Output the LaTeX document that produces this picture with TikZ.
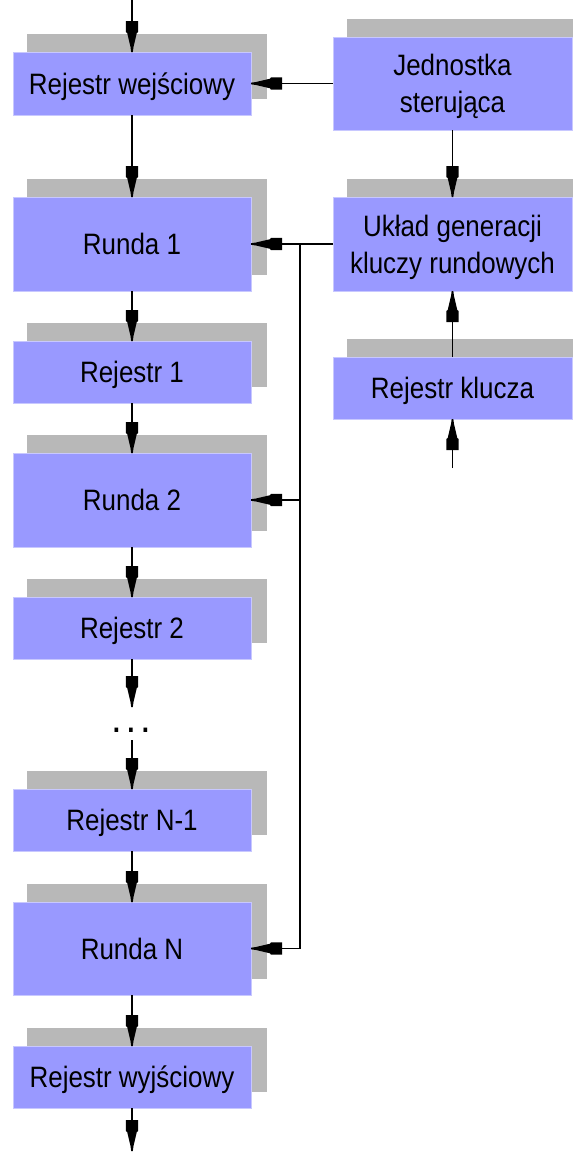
\documentclass[tikz,border=0pt]{standalone}
\usepackage{fontspec}
\setmainfont{Liberation Sans}[FakeStretch=0.88]
\usetikzlibrary{arrows.meta,shadows}
\definecolor{boxfill}{RGB}{153,153,255}
\definecolor{boxedge}{RGB}{200,200,255}
\definecolor{shade}{RGB}{184,184,184}

% arrow head: square block, tapered neck, thin needle at the tip
\pgfdeclarearrow{
  name = Plug,
  setup code = {
    \pgfarrowssettipend{0pt}
    \pgfarrowssetlineend{-3pt}
    \pgfarrowssetbackend{-31pt}
    \pgfarrowshullpoint{0pt}{0pt}
    \pgfarrowshullpoint{-31pt}{6.2pt}
    \pgfarrowshullpoint{-31pt}{-6.2pt}
  },
  drawing code = {
    \pgfpathmoveto{\pgfpoint{0pt}{0.8pt}}
    \pgfpathlineto{\pgfpoint{-5pt}{1.5pt}}
    \pgfpathlineto{\pgfpoint{-19pt}{4.8pt}}
    \pgfpathlineto{\pgfpoint{-20pt}{6.2pt}}
    \pgfpathlineto{\pgfpoint{-31pt}{6.2pt}}
    \pgfpathlineto{\pgfpoint{-31pt}{-6.2pt}}
    \pgfpathlineto{\pgfpoint{-20pt}{-6.2pt}}
    \pgfpathlineto{\pgfpoint{-19pt}{-4.8pt}}
    \pgfpathlineto{\pgfpoint{-5pt}{-1.5pt}}
    \pgfpathlineto{\pgfpoint{0pt}{-0.8pt}}
    \pgfpathclose
    \pgfusepathqfill
  }
}

\begin{document}
\begin{tikzpicture}[x=1pt,y=-1pt,
  blk/.style={draw=boxedge, line width=0.8pt, fill=boxfill,
    minimum width=238pt, inner sep=0pt, outer sep=0pt,
    font=\fontsize{29.5}{37}\selectfont, text height=21pt, text depth=0pt,
    drop shadow={shadow xshift=15pt, shadow yshift=17pt,
      fill=shade, draw=shade, line width=2pt, opacity=1}},
  twoline/.style={align=center, text height=58pt, text depth=0pt},
  flow/.style={line width=1.6pt, -Plug}
]
\useasboundingbox (0,0) rectangle (573,1152);
\clip (0,0) rectangle (573,1152);

% main data path
\node[blk, minimum height=63pt] (rin)  at (132,83.5)  {Rejestr wejściowy};
\node[blk, minimum height=94pt] (rd1)  at (132,244)   {Runda 1};
\node[blk, minimum height=62pt] (r1)   at (132,372)   {Rejestr 1};
\node[blk, minimum height=94pt] (rd2)  at (132,500)   {Runda 2};
\node[blk, minimum height=62pt] (r2)   at (132,628)   {Rejestr 2};
\node[font=\fontsize{29.5}{37}\selectfont\bfseries, inner sep=0pt, anchor=base] (dots) at (131,732) {.\ .\ .};
\node[blk, minimum height=62pt] (rN1)  at (132,820)   {Rejestr N-1};
\node[blk, minimum height=93pt] (rdN)  at (132,948.5) {Runda N};
\node[blk, minimum height=62pt] (rout) at (132,1077)  {Rejestr wyjściowy};

% control and key schedule
\node[blk, twoline, minimum width=239pt, minimum height=93pt] (ctrl) at (452.5,83.5) {Jednostka\\sterująca};
\node[blk, twoline, minimum width=239pt, minimum height=94pt] (gen)  at (452.5,244)  {Układ generacji\\kluczy rundowych};
\node[blk, minimum width=239pt, minimum height=62pt] (key) at (452.5,388) {Rejestr klucza};

% free ends
\coordinate (inTop)  at (132,0);
\coordinate (gapA)   at (132,707);
\coordinate (gapB)   at (132,740);
\coordinate (outEnd) at (132,1151);
\coordinate (keyIn)  at (452.5,468);
\coordinate (busX)   at (300,0);

% data flow
\draw[flow] (inTop) -- (rin);
\draw[flow] (rin) -- (rd1);
\draw[flow] (rd1) -- (r1);
\draw[flow] (r1) -- (rd2);
\draw[flow] (rd2) -- (r2);
\draw[flow] (r2) -- (gapA);
\draw[flow] (gapB) -- (rN1);
\draw[flow] (rN1) -- (rdN);
\draw[flow] (rdN) -- (rout);
\draw[flow] (rout) -- (outEnd);

% control, keys and round-key bus
\draw[flow] (ctrl) -- (rin);
\draw[flow] (ctrl) -- (gen);
\draw[flow] (gen) -- (rd1);
\draw[flow] (key) -- (gen);
\draw[flow] (keyIn) -- (key);
\draw[flow] (busX |- rd1.east) -- (busX |- rdN.east) -- (rdN.east);
\draw[flow] (busX |- rd2.east) -- (rd2.east);
\end{tikzpicture}
\end{document}
